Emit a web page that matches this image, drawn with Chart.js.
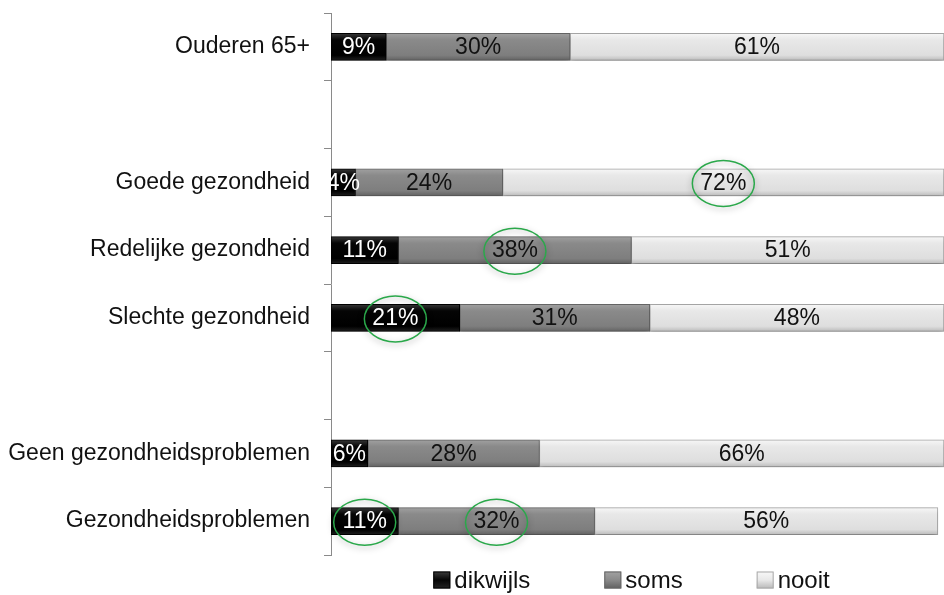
<!DOCTYPE html>
<html>
<head>
<meta charset="utf-8">
<script src="https://cdn.jsdelivr.net/npm/chart.js@4"></script>
<style>
  html, body { margin: 0; padding: 0; background: #ffffff; }
  #wrap { width: 944px; height: 595px; }
</style>
</head>
<body>
<div id="wrap"><canvas id="chart" width="944" height="595"></canvas></div>
<script>
const categories = ['Ouderen 65+', '', 'Goede gezondheid', 'Redelijke gezondheid', 'Slechte gezondheid', '', 'Geen gezondheidsproblemen', 'Gezondheidsproblemen'];
const dikwijls = [9, null, 4, 11, 21, null, 6, 11];
const soms = [30, null, 24, 38, 31, null, 28, 32];
const nooit = [61, null, 72, 51, 48, null, 66, 56];
const seriesNames = ['dikwijls', 'soms', 'nooit'];
// [dataset, category] of the values that are circled in green
const circled = [[2, 2], [1, 3], [0, 4], [0, 7], [1, 7]];

const FONT = "'Liberation Sans', Arial, sans-serif";

// glossy vertical fill for each bar
const shades = [
    ['#3c3c3c', '#050505', '#000000', '#222222'],
    ['#a2a2a2', '#8a8a8a', '#7e7e7e', '#606060'],
    ['#f8f8f8', '#e8e8e8', '#dedede', '#b8b8b8']
];
const borders = ['#000000', '#666666', '#a8a8a8'];
const labelColors = ['#ffffff', '#111111', '#111111'];

function barFill(si) {
    return function(context) {
        const chart = context.chart;
        const yScale = chart.scales.y;
        if (!chart.chartArea || !yScale || context.dataIndex === undefined) return shades[si][1];
        const yc = yScale.getPixelForValue(context.dataIndex);
        const g = chart.ctx.createLinearGradient(0, yc - 14, 0, yc + 14);
        g.addColorStop(0, shades[si][0]);
        g.addColorStop(0.25, shades[si][1]);
        g.addColorStop(0.8, shades[si][2]);
        g.addColorStop(1, shades[si][3]);
        return g;
    };
}

const barShadow = {
    id: 'barShadow',
    beforeDatasetDraw(chart) {
        const ctx = chart.ctx;
        ctx.save();
        ctx.shadowColor = 'rgba(0,0,0,0.25)';
        ctx.shadowBlur = 5;
        ctx.shadowOffsetY = 3;
    },
    afterDatasetDraw(chart) {
        chart.ctx.restore();
    }
};

const valueLabels = {
    id: 'valueLabels',
    afterDatasetsDraw(chart) {
        const ctx = chart.ctx;
        ctx.save();
        ctx.font = '23px ' + FONT;
        ctx.textAlign = 'center';
        ctx.textBaseline = 'middle';
        chart.data.datasets.forEach((ds, si) => {
            const meta = chart.getDatasetMeta(si);
            meta.data.forEach((bar, i) => {
                const v = ds.data[i];
                if (v === null) return;
                const cx = (bar.x + bar.base) / 2;
                ctx.fillStyle = labelColors[si];
                ctx.fillText(v + '%', cx, bar.y + 1);
            });
        });
        // green circles
        circled.forEach(([si, i]) => {
            const bar = chart.getDatasetMeta(si).data[i];
            const cx = (bar.x + bar.base) / 2;
            ctx.save();
            ctx.shadowColor = 'rgba(0,0,0,0.35)';
            ctx.shadowBlur = 6;
            ctx.shadowOffsetY = 2;
            ctx.beginPath();
            ctx.ellipse(cx, bar.y + 1, 31, 23, 0, 0, Math.PI * 2);
            ctx.strokeStyle = '#2aa84a';
            ctx.lineWidth = 1.5;
            ctx.stroke();
            ctx.restore();
        });
        ctx.restore();
    }
};

const bottomLegend = {
    id: 'bottomLegend',
    afterDraw(chart) {
        const ctx = chart.ctx;
        const area = chart.chartArea;
        ctx.save();
        ctx.font = '24px ' + FONT;
        ctx.textBaseline = 'middle';
        const box = 17, gap = 4, spacing = 74;
        const widths = seriesNames.map(n => box + gap + ctx.measureText(n).width);
        const total = widths.reduce((a, b) => a + b, 0) + spacing * (widths.length - 1);
        let x = (area.left + area.right) / 2 - 6 - total / 2;
        const y = 580;
        seriesNames.forEach((name, si) => {
            const g = ctx.createLinearGradient(0, y - box / 2, 0, y + box / 2);
            g.addColorStop(0, shades[si][0]);
            g.addColorStop(0.5, shades[si][1]);
            g.addColorStop(1, shades[si][3]);
            ctx.fillStyle = g;
            ctx.fillRect(x, y - box / 2, box, box);
            ctx.strokeStyle = borders[si];
            ctx.lineWidth = 1;
            ctx.strokeRect(x + 0.5, y - box / 2 + 0.5, box - 1, box - 1);
            ctx.fillStyle = '#111111';
            ctx.fillText(name, x + box + gap, y + 1);
            x += widths[si] + spacing;
        });
        ctx.restore();
    }
};

function makeDataset(label, values, si) {
    return {
        label: label,
        data: values,
        backgroundColor: barFill(si),
        borderColor: borders[si],
        borderWidth: 1,
        borderSkipped: false,
        barThickness: 27
    };
}

new Chart(document.getElementById('chart'), {
    type: 'bar',
    data: {
        labels: categories,
        datasets: [
            makeDataset('dikwijls', dikwijls, 0),
            makeDataset('soms', soms, 1),
            makeDataset('nooit', nooit, 2)
        ]
    },
    options: {
        indexAxis: 'y',
        responsive: false,
        animation: false,
        layout: {
            padding: { top: 13, bottom: 40, left: 0, right: 0 }
        },
        plugins: {
            legend: { display: false },
            tooltip: { enabled: false }
        },
        scales: {
            x: {
                stacked: true,
                min: 0,
                max: 100,
                display: false
            },
            y: {
                stacked: true,
                afterFit: function(scale) {
                    scale.width = 331;
                    scale.paddingTop = 0;
                    scale.paddingBottom = 0;
                },
                grid: {
                    drawOnChartArea: false,
                    drawTicks: true,
                    tickLength: 7,
                    color: '#8a8a8a'
                },
                border: {
                    display: true,
                    color: '#8a8a8a',
                    width: 1
                },
                ticks: {
                    padding: 14,
                    color: '#111111',
                    font: {
                        family: FONT,
                        size: 23
                    }
                }
            }
        }
    },
    plugins: [barShadow, valueLabels, bottomLegend]
});
</script>
</body>
</html>
